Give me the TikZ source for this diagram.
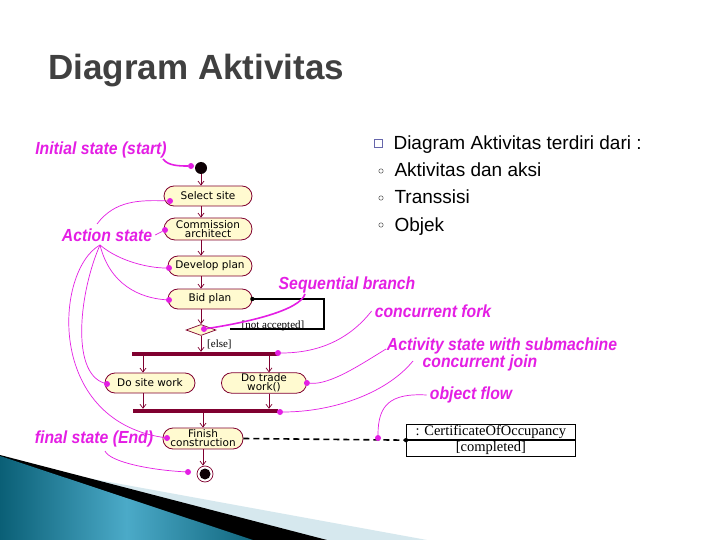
\documentclass[tikz,border=0pt]{standalone}
\usepackage{fontspec}
\setmainfont{Liberation Sans}
\newfontfamily\umlfont{DejaVu Sans}
\newfontfamily\serfont{Liberation Serif}
\usetikzlibrary{arrows.meta,shapes.geometric,shapes.multipart}

\definecolor{mag}{RGB}{228,30,228}
\definecolor{maroon}{RGB}{128,0,48}
\definecolor{actfill}{RGB}{255,250,208}
\definecolor{titlegray}{RGB}{64,64,64}
\definecolor{tealdark}{RGB}{10,95,118}
\definecolor{teallight}{RGB}{75,170,200}
\definecolor{paleblue}{RGB}{214,232,238}

\begin{document}
\begin{tikzpicture}[x=1pt, y=-1pt,
    act/.style={draw=maroon, fill=actfill, line width=0.8pt, rounded corners=10pt,
        minimum height=20pt, inner sep=1pt, align=center,
        font=\umlfont\fontsize{10.5}{9}\selectfont},
    flow/.style={draw=maroon, line width=0.7pt, -{Straight Barb[length=4pt,width=6pt]}},
    bar/.style={fill=maroon, inner sep=0pt, minimum height=4pt},
    note/.style={text=mag, xscale=0.9, font=\bfseries\itshape\fontsize{17.5}{17.5}\selectfont},
    link/.style={draw=mag, line width=0.7pt},
    mdot/.style={circle, fill=mag, inner sep=0pt, minimum size=6pt},
    grd/.style={font=\serfont\fontsize{11}{11}\selectfont, inner sep=0pt}]

\fill[white] (0,0) rectangle (720,540);
\useasboundingbox (0,0) rectangle (720,540);

% Bottom wedge
\fill[paleblue] (0,462) -- (427,540) -- (0,540) -- cycle;
\fill[black] (0,455) -- (327,540) -- (0,540) -- cycle;
\shade[left color=tealdark, right color=tealdark!90!teallight, middle color=teallight]
    (0,456) -- (253,540) -- (0,540) -- cycle;

% Title
\node (title)[anchor=base west, text=titlegray, font=\bfseries\fontsize{35}{35}\selectfont]
    at (45,80) {Diagram Aktivitas};

% Bullet list
\draw[black!55!blue!60, line width=0.6pt] (374,139) rectangle (382,147);
\node (b0)[anchor=base west, font=\fontsize{19}{19}\selectfont] at (390,150)
    {Diagram Aktivitas terdiri dari :};
\foreach \t [count=\i] in {Aktivitas dan aksi, Transsisi, Objek} {
    \draw[black!70, line width=0.5pt] (381,144+27*\i) circle (2.2);
    \node (b\i)[anchor=base west, font=\fontsize{19}{19}\selectfont] at (391,150+27*\i) {\t};
}

% Activity states
\node (init)[circle, fill=black!90!maroon, minimum size=12pt, inner sep=0pt] at (201,168) {};
\node (select)[act, minimum width=88pt] at (208,196) {Select site};
\node (commission)[act, minimum width=88pt, minimum height=22pt, rounded corners=11pt]
    at (208,229) {Commission\\architect};
\node (develop)[act, minimum width=84pt] at (210,266) {Develop plan};
\node (bid)[act, minimum width=84pt] at (210,299) {Bid plan};
\node (branch)[diamond, draw=maroon, fill=actfill, line width=0.7pt, inner sep=0pt,
    minimum width=30pt, minimum height=11pt] at (201,330) {};
\node (fork)[bar, minimum width=146pt] at (205,354) {};
\node (doSite)[act, minimum width=90pt] at (150,383) {Do site work};
\node (doTrade)[act, minimum width=85pt] at (264,383) {Do trade\\work()};
\node (join)[bar, minimum width=145pt] at (205.5,411) {};
\node (finish)[act, minimum width=80pt, minimum height=21pt] at (203,438.5)
    {Finish\\construction};
\node (final)[circle, draw=maroon, fill=white, line width=0.7pt, minimum size=16pt,
    inner sep=0pt] at (205,474) {};
\node (finalcore)[circle, fill=black!90!maroon, minimum size=11pt, inner sep=0pt] at (final) {};

% Object
\node (obj)[rectangle split, rectangle split parts=2, draw, line width=0.6pt,
    minimum width=169pt, inner ysep=1pt, anchor=north west,
    font=\serfont\fontsize{14.5}{14.5}\selectfont] at (406,424)
    {: CertificateOfOccupancy \nodepart{two} [completed]};
\draw[line width=2.2pt] (obj.text split west) -- (obj.text split east);

% Transitions
\coordinate (siteIn) at (143,0);
\coordinate (tradeIn) at (269,0);
\draw[flow] (init) -- (init |- select.north);
\draw[flow] (init |- select.south) -- (init |- commission.north);
\draw[flow] (init |- commission.south) -- (init |- develop.north);
\draw[flow] (init |- develop.south) -- (init |- bid.north);
\draw[flow] (init |- bid.south) -- (branch.north);
\draw[flow] (branch.south) -- (branch.south |- fork.north);
\draw[flow] (fork.south -| siteIn) -- (doSite.north -| siteIn);
\draw[flow] (fork.south -| tradeIn) -- (doTrade.north -| tradeIn);
\draw[flow] (doSite.south -| siteIn) -- (join.north -| siteIn);
\draw[flow] (doTrade.south -| tradeIn) -- (join.north -| tradeIn);
\draw[flow] (join.south -| finish.north) -- (finish.north);
\draw[flow] (finish.south) -- (finish.south |- final.north);

% Branch loop
\coordinate (loopCorner) at (324,329);
\coordinate (loopEnd) at (230,329);
\draw[line width=1.8pt] (bid.east) -| (loopCorner) -- (loopEnd);
\fill (bid.east) circle (2.2);
\node (notacc)[grd, anchor=base] at (273,328) {[not accepted]};
\node (else)[grd, anchor=base west] at (207,347) {[else]};

% Object flow
\draw[line width=1.6pt, dash pattern=on 6pt off 4pt] (finish.east) -- (obj.west);
\fill (obj.west) circle (2.2);

% Callout labels
\node (lInit)[note] at (101,150) {Initial state (start)};
\node (lAct)[note] at (107,235) {Action state};
\node (lSeq)[note] at (347,285) {Sequential branch};
\node (lFork)[note] at (433,311) {concurrent fork};
\node (lSub)[note] at (502,346) {Activity state with submachine};
\node (lJoin)[note] at (480,363) {concurrent join};
\node (lObj)[note] at (471,395) {object flow};
\node (lFinal)[note] at (94,439) {final state (End)};

% Callout dots
\node (mInit)[mdot] at (191,166) {};
\node (mSel)[mdot] at (170,201) {};
\node (mCom)[mdot] at (165,230) {};
\node (mDev)[mdot] at (169,268) {};
\node (mBid)[mdot] at (169,300) {};
\node (mBr)[mdot] at (204,329) {};
\node (mFork)[mdot] at (278,353) {};
\node (mSite)[mdot] at (107,384) {};
\node (mTrade)[mdot] at (doTrade.east) {};
\node (mJoin)[mdot] at (280,412) {};
\node (mFin)[mdot] at (167,438) {};
\node (mObj)[mdot] at (378,438) {};
\node (mEnd)[mdot] at (188,472) {};

% Callout lines
\coordinate (aTop) at (97,224);
\coordinate (aRoot) at (100,245);
\draw[link, line width=1.6pt] (163,159) .. controls (168,166) and (180,166) .. (mInit);
\draw[link] (aTop) .. controls (115,200) and (140,200) .. (mSel);
\draw[link] (lAct.east) -- (mCom);
\draw[link] (aRoot) .. controls (120,262) and (150,268) .. (mDev);
\draw[link] (aRoot) .. controls (110,285) and (140,298) .. (mBid);
\draw[link] (aRoot) .. controls (80,290) and (70,372) .. (mSite);
\draw[link] (aRoot) .. controls (55,270) and (45,420) .. (mFin);
\draw[link, line width=1.6pt] (305,294) .. controls (300,310) and (250,322) .. (mBr);
\draw[link] (lFork.west) .. controls (345,345) and (310,353) .. (mFork);
\draw[link] (386,349) .. controls (360,365) and (330,385) .. (mTrade);
\draw[link] (413,361) .. controls (385,395) and (330,412) .. (mJoin);
\draw[link] (lObj.west) .. controls (390,393) and (378,405) .. (mObj);
\draw[link] (105,451) .. controls (110,462) and (150,470) .. (mEnd);

\end{tikzpicture}
\end{document}
